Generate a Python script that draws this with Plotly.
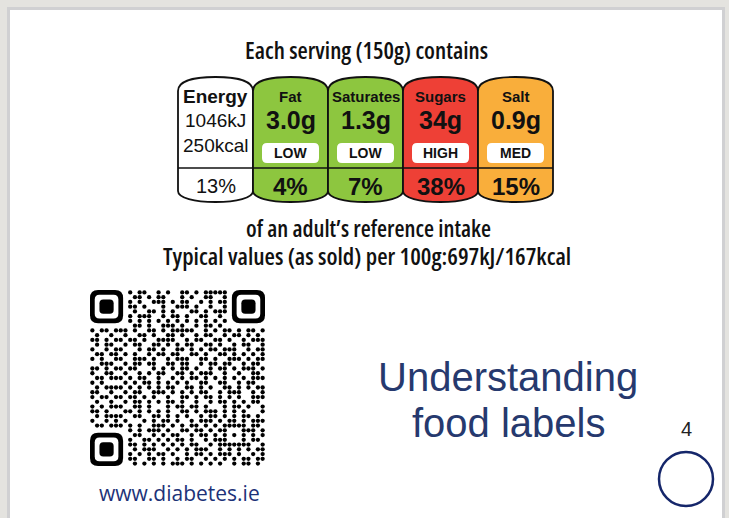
import plotly.graph_objects as go

W, H = 729, 518

# ---------------- data ----------------
nutrients = ["Energy", "Fat", "Saturates", "Sugars", "Salt"]
amounts = ["1046kJ", "3.0g", "1.3g", "34g", "0.9g"]
energy_kcal = "250kcal"
levels = ["", "LOW", "LOW", "HIGH", "MED"]
percents = ["13%", "4%", "7%", "38%", "15%"]
fill_colors = ["#ffffff", "#8dc63f", "#8dc63f", "#ee4036", "#f9ae3b"]

heading = "Each serving (150g) contains"
footer1 = "of an adult\u2019s reference intake"
footer2 = "Typical values (as sold) per 100g:697kJ/167kcal"
title_lines = ["Understanding", "food labels"]
page_number = "4"
website = "www.diabetes.ie"

# QR code modules (approximate). '#' = dot
qr_top = [
    "#.##..#.#..##.#.#####",
    ".##.#.##...#.#..##..#",
    "#.#..###.#.##..#.#.##",
    "##.#...#..###.#..#..#",
    ".#..##.#.#...##.#.###",
    "#.###..#.##.#..##..#.",
    "#.#.#.#.#.#.#.#.#.#.#",
    ".##.#..###.#..#.##.#.",
]
qr_mid = [
    "#.##.###.#..##.#.#####..#.#.##.#.##.#",
    ".#..#..#..##.#..##.#..#.##..#.##.#.#.",
    "##.#.##.##.#..####..#.##..##.#..#.###",
    ".#.##..#.##..##.#.#.##..##.#..#.##..#",
    "#..#.##...#.##.#..##.#.#.##.###..#.##",
    ".##.##.#.#..#.##.##..##.#..##.#.#.#.#",
    "#.#..##..###.#..#.###..##.#..###.#.##",
    "..###..#.##.##..##.##..#.##.##..#.##.",
    "##.#.##.##...#.#.#.##.#..#.##.#.###.#",
    "#..##..#..#.#.##..##.#.###..#..#..##.",
    ".##.###.#.##..#..#.#.##.#.#.#.#.#.###",
    "#.#....#.#.##.#.#.#.#..##..##..#.##..",
    ".#.####.#.#.#.#.##..##.#.#..##.#.#.##",
    "##..#..#.##..###.#.#.#.##..#.###..#.#",
    "#.##.##.##.#.#..#..##.#.##.#.#.#..###",
    ".#..#..#.##.#.#.##.#..#..#.##.#.#.##.",
    "#.#.###..##.#...#.##.##.#...#.##.#..#",
    "##.#...##.#.#.#.#..##.#.###.#.#.#...#",
    ".#.####..##..##.#.#.#..#.##.#.#.##.#.",
    "#..#.#.#...#.#.##.#..#.###.#.##.#.###",
    ".##.###.#.#..###.#.#.##.#.#.###.#.##.",
]
qr_bot = [
    "#.#.###.#..##.##.#.#..##.##.#",
    ".##..#.#.##..#.##.#.#.##..#.#",
    "#..##.#.#.##.#..#.##.#..#.##.",
    "##.#.#.#.#.#.##..#.#.##.##..#",
    ".#.###..#.#.#.###..#.#.#.#.##",
    "#.#.#.##.#..#.##.#.###.#..#.#",
    "##..##.#..#.##..#.#.#.#.##.##",
    ".#.#.#.#.###.#.#.#.#..#.##.#.",
]

N = 37
grid = []
for r in qr_top:
    grid.append("." * 8 + r + "." * 8)
grid.extend(qr_mid)
for r in qr_bot:
    grid.append("." * 8 + r)
grid = [list(g) for g in grid]
# alignment pattern centred at (30, 30)
for rr in range(28, 33):
    for cc in range(28, 33):
        d = max(abs(rr - 30), abs(cc - 30))
        grid[rr][cc] = "#" if d in (0, 2) else "."

qx, qy = [], []
for r in range(N):
    for c in range(N):
        if grid[r][c] == "#":
            qx.append(c + 0.5)
            qy.append(r + 0.5)

# ---------------- figure ----------------
fig = go.Figure()

fig.add_trace(go.Scatter(x=[0, W], y=[0, H], mode="markers",
                         marker=dict(opacity=0), hoverinfo="skip",
                         showlegend=False, xaxis="x", yaxis="y"))

fig.add_trace(go.Scatter(x=qx, y=qy, mode="markers",
                         marker=dict(size=4.3, color="#000000", line=dict(width=0)),
                         hoverinfo="skip", showlegend=False,
                         xaxis="x2", yaxis="y2"))

QR_X0, QR_X1, QR_Y0, QR_Y1 = 90, 265, 290, 466

fig.update_layout(
    width=W, height=H,
    margin=dict(l=0, r=0, t=0, b=0),
    paper_bgcolor="#e4e3df",
    plot_bgcolor="rgba(0,0,0,0)",
    showlegend=False,
    hovermode=False,
    xaxis=dict(range=[0, W], visible=False, domain=[0, 1], fixedrange=True),
    yaxis=dict(range=[H, 0], visible=False, domain=[0, 1], fixedrange=True),
    xaxis2=dict(range=[0, N], visible=False, anchor="y2",
                domain=[QR_X0 / W, QR_X1 / W], fixedrange=True),
    yaxis2=dict(range=[N, 0], visible=False, anchor="x2",
                domain=[1 - QR_Y1 / H, 1 - QR_Y0 / H], fixedrange=True),
)

shapes = []
shapes.append(dict(type="rect", xref="x", yref="y", x0=8.5, x1=723.5, y0=8.5, y1=540,
                   line=dict(color="#d0d0d2", width=3), fillcolor="#ffffff", layer="below"))


def rr_path(x0, y0, x1, y1, r):
    return (f"M {x0 + r},{y0} L {x1 - r},{y0} Q {x1},{y0} {x1},{y0 + r} "
            f"L {x1},{y1 - r} Q {x1},{y1} {x1 - r},{y1} L {x0 + r},{y1} "
            f"Q {x0},{y1} {x0},{y1 - r} L {x0},{y0 + r} Q {x0},{y0} {x0 + r},{y0} Z")


COL_LEFT, COL_W = 178, 75
Y_SIDE_TOP, Y_PEAK, Y_SIDE_BOT, Y_FOOT, Y_DIV = 91, 77, 191, 202, 168
for i, name in enumerate(nutrients):
    x0 = COL_LEFT + i * COL_W
    x1 = x0 + COL_W
    xm = (x0 + x1) / 2
    q = COL_W * 0.22
    path = (f"M {x0},{Y_SIDE_TOP} C {x0},{Y_PEAK + 4} {x0 + q},{Y_PEAK} {xm},{Y_PEAK} "
            f"C {x1 - q},{Y_PEAK} {x1},{Y_PEAK + 4} {x1},{Y_SIDE_TOP} "
            f"L {x1},{Y_SIDE_BOT} C {x1},{Y_FOOT - 4} {x1 - q},{Y_FOOT} {xm},{Y_FOOT} "
            f"C {x0 + q},{Y_FOOT} {x0},{Y_FOOT - 4} {x0},{Y_SIDE_BOT} Z")
    shapes.append(dict(type="path", xref="x", yref="y", path=path,
                       fillcolor=fill_colors[i], line=dict(color="#111111", width=1.8)))
    shapes.append(dict(type="line", xref="x", yref="y", x0=x0, x1=x1, y0=Y_DIV, y1=Y_DIV,
                       line=dict(color="#111111", width=1.6)))
    if levels[i]:
        shapes.append(dict(type="path", xref="x", yref="y",
                           path=rr_path(x0 + 9, 143, x1 - 9, 163, 5),
                           fillcolor="#ffffff", line=dict(width=0)))

for (fx, fy) in [(0, 0), (30, 0), (0, 30)]:
    shapes.append(dict(type="path", xref="x2", yref="y2",
                       path=rr_path(fx, fy, fx + 7, fy + 7, 1.7),
                       fillcolor="#000000", line=dict(width=0)))
    shapes.append(dict(type="path", xref="x2", yref="y2",
                       path=rr_path(fx + 1, fy + 1, fx + 6, fy + 6, 1.0),
                       fillcolor="#ffffff", line=dict(width=0)))
    shapes.append(dict(type="path", xref="x2", yref="y2",
                       path=rr_path(fx + 2, fy + 2, fx + 5, fy + 5, 0.8),
                       fillcolor="#000000", line=dict(width=0)))

shapes.append(dict(type="circle", xref="x", yref="y", x0=659, x1=713, y0=452, y1=506,
                   line=dict(color="#15266a", width=2.5), fillcolor="rgba(0,0,0,0)"))

fig.update_layout(shapes=shapes)

LBL = "Liberation Sans, Arial, sans-serif"
COND = "Open Sans, Liberation Sans, sans-serif"
ann = []


def add_text(x, y, text, size, family=LBL, color="#111111", bold=False,
             weight=None, condensed=False):
    t = f"<b>{text}</b>" if bold else text
    if condensed:
        t = f'<span style="font-stretch:condensed">{t}</span>'
    font = dict(family=family, size=size, color=color)
    if weight is not None:
        font["weight"] = weight
    ann.append(dict(x=x, y=y, xref="x", yref="y", text=t, showarrow=False,
                    xanchor="center", yanchor="middle", font=font))


add_text(366, 50, heading, 23.5, COND, weight=600, condensed=True)
for i, name in enumerate(nutrients):
    xm = COL_LEFT + i * COL_W + COL_W / 2
    if i == 0:
        add_text(xm, 96, name, 19, bold=True)
        add_text(xm, 120, amounts[i], 19)
        add_text(xm, 145, energy_kcal, 19)
        add_text(xm, 186, percents[i], 20)
    else:
        add_text(xm, 96, name, 15, bold=True)
        add_text(xm, 120, amounts[i], 25, bold=True)
        add_text(xm, 153, levels[i], 14, bold=True)
        add_text(xm, 186, percents[i], 24, bold=True)

add_text(368, 228, footer1, 23, COND, weight=600, condensed=True)
add_text(367, 256, footer2, 23.8, COND, weight=600, condensed=True)

add_text(508, 377, title_lines[0], 40, LBL, color="#26396e")
add_text(508, 423, title_lines[1], 40, LBL, color="#26396e")
add_text(686, 429, page_number, 20, LBL, color="#222222")
add_text(179.5, 493, website, 21, "Open Sans, Noto Sans, sans-serif", color="#1d3278")

fig.update_layout(annotations=ann)

fig.write_html("out.html", config={"displayModeBar": False},
               post_script="document.body.style.margin='0';"
                           "document.body.style.overflow='hidden';"
                           "document.body.style.background='#e4e3df';")
